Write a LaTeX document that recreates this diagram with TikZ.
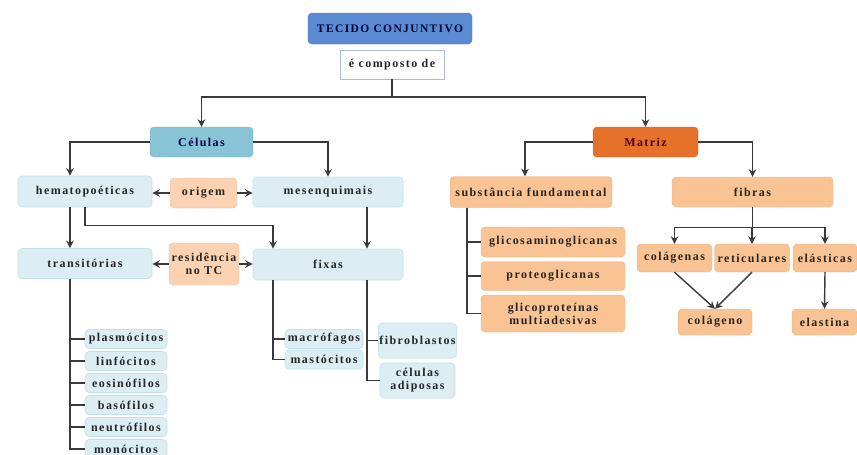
\documentclass[tikz,border=0pt]{standalone}
\usepackage{fontspec}
\setmainfont{Liberation Serif}[LetterSpace=12]
\usetikzlibrary{arrows.meta}
\definecolor{tecblue}{HTML}{5A8BD2}
\definecolor{celblue}{HTML}{88C3D6}
\definecolor{lightblue}{HTML}{DCEEF4}
\definecolor{lineblue}{HTML}{C2E0EA}
\definecolor{peach}{HTML}{FBD3B2}
\definecolor{matorange}{HTML}{E5712A}
\definecolor{lightorange}{HTML}{FAC394}
\definecolor{connline}{HTML}{3A3A3A}
\tikzset{
	base/.style={rounded corners=4pt, align=center, inner sep=1pt, text=black!85,
		font=\bfseries\fontsize{12}{13}\selectfont},
	topbox/.style={base, fill=tecblue, draw=tecblue!85!black, text=black!80!blue,
		font=\bfseries\fontsize{11.5}{12.5}\selectfont},
	linkbox/.style={base, rounded corners=0pt, fill=white, draw=tecblue!55, line width=0.8pt},
	cellhead/.style={base, fill=celblue, draw=celblue!90!black, text=black!70!blue},
	cellbox/.style={base, fill=lightblue, draw=lineblue, line width=0.6pt},
	notebox/.style={base, fill=peach, draw=peach!90!black, line width=0.4pt},
	mathead/.style={base, fill=matorange, draw=matorange!90!black, text=black!70!red},
	matbox/.style={base, fill=lightorange, draw=lightorange!92!black, line width=0.4pt},
	conn/.style={draw=connline, line width=1.4pt},
	arr/.style={conn, -{Stealth[length=7.5pt,width=7.5pt]}},
}

\begin{document}
\begin{tikzpicture}[x=1pt,y=-1pt]
			%%%%% START %%%%%
			\useasboundingbox (0,0) rectangle (857,455);
			
			\node[topbox, minimum width=164pt, minimum height=31pt] (tecido) at (390,28.5) {TECIDO CONJUNTIVO};
			\node[linkbox, minimum width=104pt, minimum height=29pt] (composto) at (392,64.5) {é composto de};
			\coordinate (split) at (392,97);
			
			% celulas
			\node[cellhead, minimum width=103pt, minimum height=30pt] (celulas) at (201.5,142) {Células};
			\node[cellbox, minimum width=134pt, minimum height=31pt] (hemato) at (85,191.5) {hematopoéticas};
			\node[notebox, minimum width=67pt, minimum height=30pt] (origem) at (203.5,193) {origem};
			\node[cellbox, minimum width=150pt, minimum height=30pt] (mesenq) at (328,192) {mesenquimais};
			\node[cellbox, minimum width=134pt, minimum height=30pt] (transit) at (85,263.5) {transitórias};
			\node[notebox, minimum width=70pt, minimum height=42pt] (resid) at (204,264) {residência\\no TC};
			\node[cellbox, minimum width=150pt, minimum height=31pt] (fixas) at (328,264.5) {fixas};
			
			\foreach \n/\t/\y in {plasmocitos/plasmócitos/339, linfocitos/linfócitos/361,
				eosinofilos/eosinófilos/383, basofilos/basófilos/405,
				neutrofilos/neutrófilos/427, monocitos/monócitos/449}
				\node[cellbox, minimum width=82pt, minimum height=19pt] (\n) at (126,\y) {\t};
			
			\node[cellbox, minimum width=78pt, minimum height=19pt] (macrofagos) at (324,339) {macrófagos};
			\node[cellbox, minimum width=78pt, minimum height=19pt] (mastocitos) at (324,359.5) {mastócitos};
			\node[cellbox, minimum width=75pt, minimum height=35pt] (fibroblastos) at (417.5,340.5) {fibroblastos};
			\node[cellbox, minimum width=75pt, minimum height=35pt] (adiposas) at (417.5,380.5) {células\\adiposas};
			
			% matriz
			\node[mathead, minimum width=105pt, minimum height=30pt] (matriz) at (645.5,142) {Matriz};
			\node[matbox, minimum width=162pt, minimum height=31pt] (substancia) at (531,192) {substância fundamental};
			\node[matbox, minimum width=161pt, minimum height=30pt] (fibras) at (752.5,192) {fibras};
			\node[matbox, minimum width=144pt, minimum height=30pt] (glicosam) at (553,242) {glicosaminoglicanas};
			\node[matbox, minimum width=144pt, minimum height=29pt] (proteo) at (553,276) {proteoglicanas};
			\node[matbox, minimum width=144pt, minimum height=37pt] (glicoprot) at (553,313.5) {glicoproteínas\\multiadesivas};
			\node[matbox, minimum width=75pt, minimum height=28pt] (colagenas) at (674.5,258) {colágenas};
			\node[matbox, minimum width=75pt, minimum height=28pt] (reticulares) at (752,258) {reticulares};
			\node[matbox, minimum width=64pt, minimum height=28pt] (elasticas) at (825,258) {elásticas};
			\node[matbox, minimum width=74pt, minimum height=26pt] (colageno) at (715,322) {colágeno};
			\node[matbox, minimum width=65pt, minimum height=26pt] (elastina) at (824.5,322) {elastina};
			
			% connectors
			\draw[conn] (composto.south) -- (split);
			\draw[arr] (split) -| (celulas.north);
			\draw[arr] (split) -| (matriz.north);
			
			\draw[arr] (celulas.west) -| ([xshift=-15pt]hemato.north);
			\draw[arr] (celulas.east) -| (mesenq.north);
			\draw[arr] (origem.west) -- (origem.west -| hemato.east);
			\draw[arr] (origem.east) -- (origem.east -| mesenq.west);
			\draw[arr] (resid.west) -- (resid.west -| transit.east);
			\draw[arr] (resid.east) -- (resid.east -| fixas.west);
			\draw[arr] ([xshift=-15pt]hemato.south) -- ([xshift=-15pt]transit.north);
			\draw[arr] (hemato.south) -- ++(0,18) -| ([xshift=-55pt]fixas.north);
			\draw[arr] ([xshift=39pt]mesenq.south) -- ([xshift=39pt]fixas.north);
			
			\foreach \n in {plasmocitos,linfocitos,eosinofilos,basofilos,neutrofilos,monocitos}
				\draw[conn] ([xshift=-15pt]transit.south) |- (\n.west);
			\foreach \n in {macrofagos,mastocitos}
				\draw[conn] ([xshift=-55pt]fixas.south) |- (\n.west);
			\foreach \n in {fibroblastos,adiposas}
				\draw[conn] ([xshift=39pt]fixas.south) |- (\n.west);
			
			\draw[arr] (matriz.west) -| ([xshift=-6pt]substancia.north);
			\draw[arr] (matriz.east) -| (fibras.north);
			\foreach \n in {glicosam,proteo,glicoprot}
				\draw[conn] ([xshift=-64pt]substancia.south) |- (\n.west);
			
			\draw[conn] (fibras.south) -- ++(0,20) coordinate (fsplit);
			\foreach \n in {colagenas,reticulares,elasticas}
				\draw[arr] (fsplit) -| (\n.north);
			\draw[arr] (colagenas.south) -- (colageno.north);
			\draw[arr] (reticulares.south) -- (colageno.north);
			\draw[arr] (elasticas.south) -- (elastina.north);
			%%%%% END %%%%%
\end{tikzpicture}
\end{document}
